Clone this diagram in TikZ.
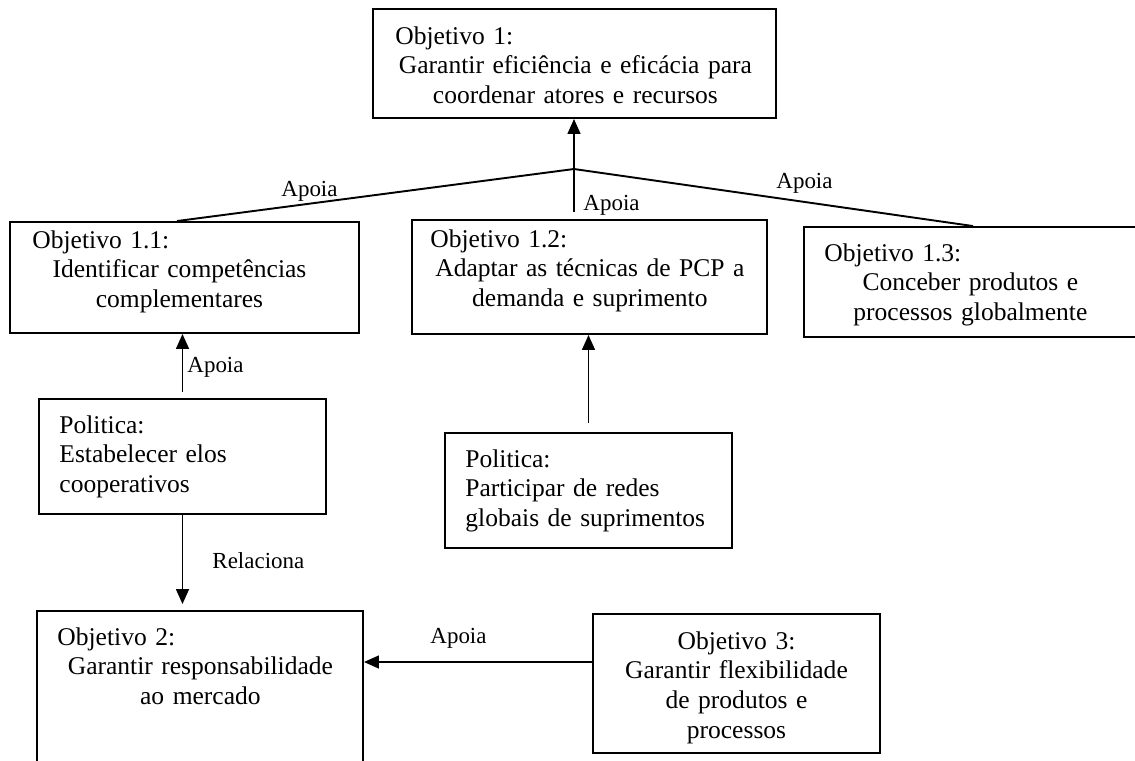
\documentclass[tikz,border=0pt]{standalone}
\usepackage{fontspec}
\setmainfont{Liberation Serif}
\usepackage{tikz}
\usetikzlibrary{arrows.meta,positioning,fit}
\setlength{\parindent}{0pt}

\begin{document}
\begin{tikzpicture}[
  x=0.47pt, y=-0.47pt,
  box/.style={draw, line width=0.9pt, inner sep=0pt},
  txt/.style={anchor=north west, inner sep=0pt, align=center, font=\fontsize{12}{13.96}\selectfont},
  lbl/.style={anchor=base, inner sep=0pt, font=\fontsize{10.8}{13}\selectfont},
  line/.style={line width=0.9pt},
  arrow/.style={-{Triangle[length=7pt,width=6pt]}, line width=0.9pt}
]
\useasboundingbox (0,0) rectangle (1135,760);
\node[box, fit={(373,9) (776,118)}] (obj1) {};
\node[box, fit={(10,222) (359,333)}] (obj11) {};
\node[box, fit={(412,220) (767,334)}] (obj12) {};
\node[box, fit={(804,227) (1160,337)}] (obj13) {};
\node[box, fit={(39,399) (326,514)}] (pol1) {};
\node[box, fit={(445,433) (732,548)}] (pol2) {};
\node[box, fit={(37,611) (363,790)}] (obj2) {};
\node[box, fit={(593,614) (880,753)}] (obj3) {};
\node[txt, text width=169.2pt] (t1) at (395,26) {\makebox[\hsize][l]{Objetivo 1:}\\Garantir eficiência e eficácia para\\coordenar atores e recursos};
\node[txt, text width=138.2pt] (t11) at (32,230) {\makebox[\hsize][l]{Objetivo 1.1:}\\Identificar competências\\complementares};
\node[txt, text width=149.9pt] (t12) at (430,229) {\makebox[\hsize][l]{Objetivo 1.2:}\\Adaptar as técnicas de PCP a\\demanda e suprimento};
\node[txt, text width=137.2pt] (t13) at (824,243) {\makebox[\hsize][l]{Objetivo 1.3:}\\Conceber produtos e\\processos globalmente};
\node[txt, text width=117.5pt, align=left] (tp1) at (59,415) {Politica:\\Estabelecer elos\\cooperativos};
\node[txt, text width=120pt, align=left] (tp2) at (465,449) {Politica:\\Participar de redes\\globais de suprimentos};
\node[txt, text width=134.4pt] (t2) at (57,627) {\makebox[\hsize][l]{Objetivo 2:}\\Garantir responsabilidade\\ao mercado};
\node[txt, anchor=north, text width=126.9pt] (t3) at (736.5,631) {Objetivo 3:\\Garantir flexibilidade\\de produtos e\\processos};
\coordinate (hub) at (574,169);
\coordinate (hubfoot) at (574,212);
\draw[line] ([shift={(-7.5,0)}]obj11.north) -- (hub) -- ([shift={(170,0)}]obj13.north west);
\draw[arrow] (hubfoot) -- (hubfoot |- obj1.south);
\draw[arrow] ([shift={(0,-6)}]pol1.north) -- (pol1.north |- obj11.south);
\draw[arrow] ([shift={(0,-9)}]pol2.north) -- (pol2.north |- obj12.south);
\draw[arrow] (pol1.south) -- ([shift={(0,-6)}]pol1.south |- obj2.north);
\draw[arrow] ([shift={(0,-21.5)}]obj3.west) coordinate (a3) -- (a3 -| obj2.east);
\node[lbl] (la1) at (309.5,196) {Apoia};
\node[lbl, anchor=base west] (la2) at (583,210) {Apoia};
\node[lbl] (la3) at (804.5,188) {Apoia};
\node[lbl, anchor=base west] (la4) at (187,372) {Apoia};
\node[lbl, anchor=base west] (lr) at (212,568) {Relaciona};
\node[lbl] (la5) at (458.5,643) {Apoia};
\end{tikzpicture}
\end{document}
